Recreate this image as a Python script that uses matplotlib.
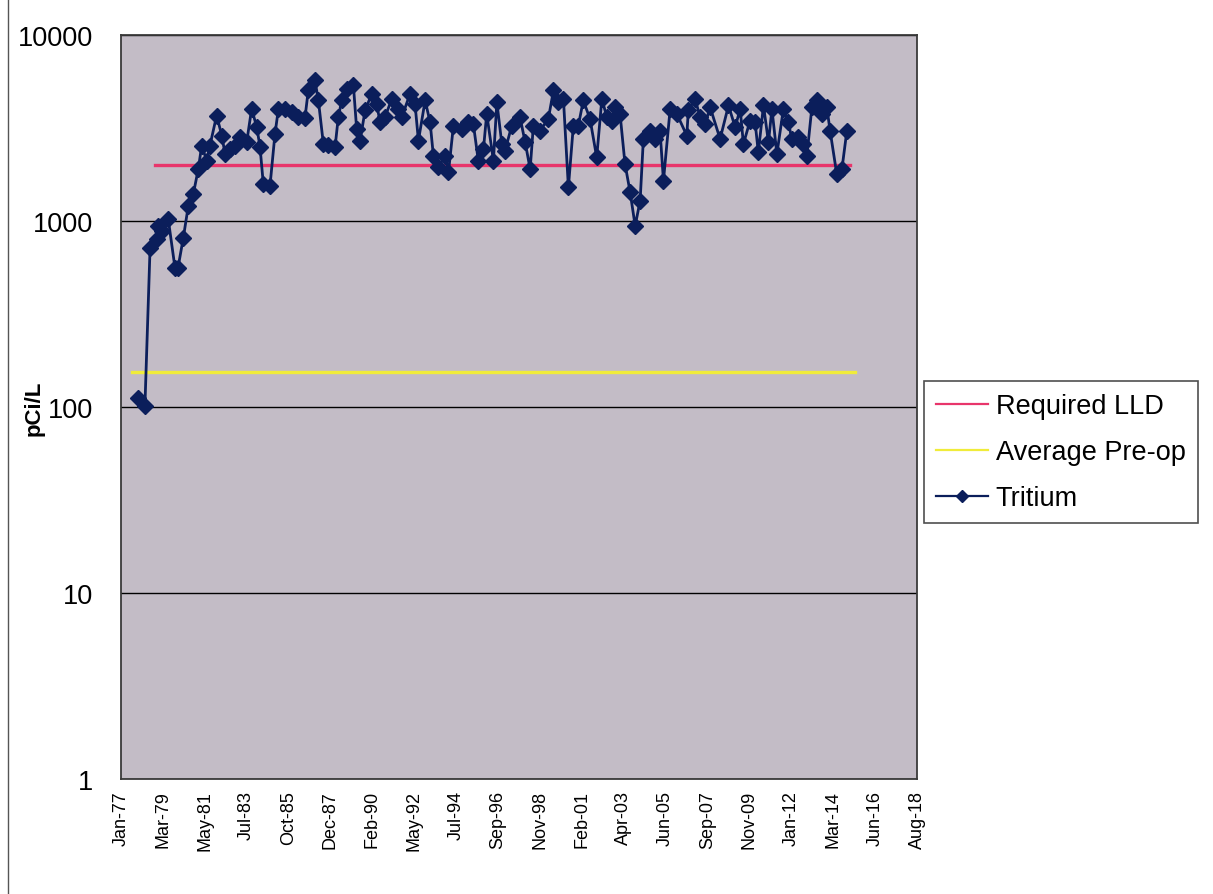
import matplotlib
matplotlib.use("Agg")
import matplotlib.pyplot as plt
from matplotlib.lines import Line2D
from matplotlib.ticker import FixedLocator, FixedFormatter, NullLocator

# ---------------- data ----------------
# sample dates as decimal years
years = [
    1977.89, 1978.25, 1978.52, 1978.87, 1978.95, 1979.13, 1979.47, 1979.82, 1979.98, 1980.26,
    1980.52, 1980.78, 1981.04, 1981.22, 1981.48, 1981.65, 1982.00, 1982.27, 1982.44, 1982.70,
    1982.96, 1983.22, 1983.57, 1983.83, 1984.10, 1984.27, 1984.44, 1984.79, 1985.05, 1985.23,
    1985.58, 1985.93, 1986.27, 1986.62, 1986.79, 1987.14, 1987.32, 1987.58, 1987.84, 1988.19,
    1988.36, 1988.54, 1988.80, 1989.15, 1989.32, 1989.50, 1989.76, 1990.11, 1990.37, 1990.54,
    1990.80, 1991.16, 1991.50, 1991.68, 1992.11, 1992.37, 1992.55, 1992.90, 1993.16, 1993.33,
    1993.59, 1993.94, 1994.12, 1994.38, 1994.82, 1995.16, 1995.42, 1995.68, 1995.95, 1996.12,
    1996.47, 1996.65, 1996.91, 1997.08, 1997.43, 1997.86, 1998.13, 1998.39, 1998.56, 1998.91,
    1999.34, 1999.61, 1999.87, 2000.13, 2000.39, 2000.65, 2000.91, 2001.17, 2001.52, 2001.87,
    2002.14, 2002.40, 2002.66, 2002.83, 2003.09, 2003.35, 2003.62, 2003.88, 2004.14, 2004.31,
    2004.66, 2004.92, 2005.18, 2005.36, 2005.71, 2006.06, 2006.58, 2006.66, 2007.01, 2007.28,
    2007.54, 2007.80, 2008.32, 2008.76, 2009.11, 2009.37, 2009.54, 2009.89, 2010.15, 2010.32,
    2010.59, 2010.85, 2011.03, 2011.29, 2011.63, 2011.89, 2012.07, 2012.42, 2012.68, 2012.86,
    2013.12, 2013.38, 2013.64, 2013.90, 2014.07, 2014.42, 2014.69, 2014.95,
]
tritium = [
    112, 101, 719, 798, 942, 886, 1023, 562, 560, 815,
    1208, 1395, 1902, 2543, 2111, 2543, 3690, 2879, 2291, 2438,
    2543, 2819, 2650, 4006, 3192, 2490, 1579, 1548, 2937, 4006,
    4006, 3845, 3614, 3600, 5034, 5700, 4446, 2594, 2550, 2490,
    3614, 4446, 5134, 5357, 3125, 2705, 3928, 4827, 4263, 3396,
    3614, 4536, 4006, 3614, 4827, 4263, 2705, 4446, 3396, 2246,
    1943, 2246, 1826, 3261, 3125, 3396, 3326, 2111, 2438, 3765,
    2111, 4354, 2594, 2390, 3261, 3614, 2650, 1902, 3261, 3064,
    3538, 5034, 4354, 4536, 1516, 3261, 3261, 4446, 3538, 2199,
    4536, 3614, 3469, 4091, 3765, 2024, 1424, 942, 1285, 2761,
    3064, 2761, 3064, 1647, 4006, 3765, 2879, 3928, 4536, 3614,
    3326, 4091, 2761, 4178, 3192, 4006, 2594, 3469, 3396, 2341,
    4178, 2650, 4006, 2291, 4006, 3396, 2761, 2819, 2594, 2246,
    4091, 4446, 3765, 4091, 3064, 1788, 1902, 3064,
]
lld_value = 2000
lld_years = [1978.78, 2015.12]
preop_value = 155
preop_years = [1977.60, 2015.40]

tick_labels = ["Jan-77", "Mar-79", "May-81", "Jul-83", "Oct-85", "Dec-87", "Feb-90",
               "May-92", "Jul-94", "Sep-96", "Nov-98", "Feb-01", "Apr-03", "Jun-05",
               "Sep-07", "Nov-09", "Jan-12", "Mar-14", "Jun-16", "Aug-18"]
y_ticks = [1, 10, 100, 1000, 10000]
y_tick_labels = ["1", "10", "100", "1000", "10000"]

# ---------------- figure ----------------
plt.rcParams["font.family"] = ["Liberation Sans", "DejaVu Sans"]

fig = plt.figure(figsize=(12.13, 8.95), dpi=100)
fig.patch.set_facecolor("white")
ax = fig.add_axes([121 / 1213, 1 - 780 / 895, 796 / 1213, 744 / 895])
ax.set_facecolor("#C3BCC6")

ax.set_yscale("log")
ax.set_ylim(y_ticks[0], y_ticks[-1])
ax.yaxis.set_major_locator(FixedLocator(y_ticks))
ax.yaxis.set_major_formatter(FixedFormatter(y_tick_labels))
ax.yaxis.set_minor_locator(NullLocator())
ax.grid(axis="y", color="black", linewidth=1.0)
ax.set_axisbelow(True)

# x axis: Excel date axis, major unit 800 days starting Jan 1977
tick_pos = [1977.0 + k * 800 / 365.25 for k in range(len(tick_labels))]
ax.set_xlim(tick_pos[0], tick_pos[-1])
ax.xaxis.set_major_locator(FixedLocator(tick_pos))
ax.xaxis.set_major_formatter(FixedFormatter(tick_labels))
ax.xaxis.set_minor_locator(NullLocator())

ax.tick_params(axis="y", length=0, labelsize=19.5, pad=20)
ax.tick_params(axis="x", length=0, labelsize=13, labelrotation=90, pad=8)

for s in ax.spines.values():
    s.set_color("#3a3a3a")
    s.set_linewidth(1.3)

ax.plot(lld_years, [lld_value, lld_value], color="#E8356B", linewidth=2.4,
        label="Required LLD", zorder=3)
ax.plot(preop_years, [preop_value, preop_value], color="#F0EC3A", linewidth=2.4,
        label="Average Pre-op", zorder=3)
ax.plot(years, tritium, color="#0B1E5B", linewidth=2.0, marker="D", markersize=8,
        markerfacecolor="#0B1E5B", markeredgecolor="#0B1E5B", label="Tritium", zorder=4)

ax.set_ylabel("pCi/L", fontsize=16, fontweight="bold")
ax.yaxis.set_label_coords((45 - 121) / 796, 0.5)

leg = ax.legend(loc="upper left", bbox_to_anchor=(924 / 1213, 1 - 382 / 895),
                bbox_transform=fig.transFigure, borderaxespad=0, fontsize=19.5,
                frameon=True, fancybox=False, shadow=False, handlelength=1.9,
                handletextpad=0.3, labelspacing=0.74, borderpad=0.45, markerscale=0.8)
leg.get_frame().set_edgecolor("#222222")
leg.get_frame().set_linewidth(1.2)
for h in leg.get_lines():
    h.set_linewidth(1.6)

# page border line at the left of the scan
fig.add_artist(Line2D([8 / 1213, 8 / 1213], [0, 1], transform=fig.transFigure,
                      color="#555555", linewidth=1.0))

fig.savefig("out.png", dpi=100, facecolor="white")
